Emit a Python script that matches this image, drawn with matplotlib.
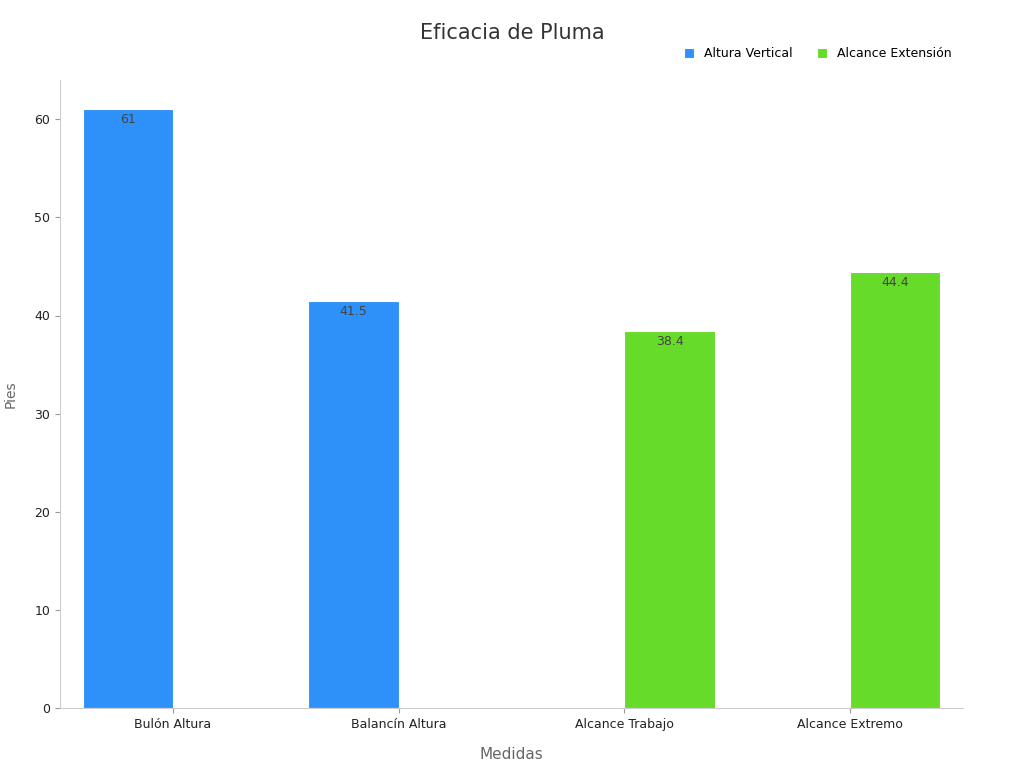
import matplotlib
matplotlib.use("Agg")
import matplotlib.pyplot as plt
import numpy as np

categories = ["Bulón Altura", "Balancín Altura", "Alcance Trabajo", "Alcance Extremo"]
series_names = ["Altura Vertical", "Alcance Extensión"]
altura_vertical = [61, 41.5, None, None]
alcance_extension = [None, None, 38.4, 44.4]
colors = ["#2e91fa", "#66db29"]

fig = plt.figure(figsize=(10.24, 7.68), dpi=100)
ax = fig.add_axes([60/1024, 60/768, 903/1024, 628/768])
x = np.arange(len(categories))
w = 0.4
for vals, off, c, name in [(altura_vertical, -w/2, colors[0], series_names[0]),
                           (alcance_extension, w/2, colors[1], series_names[1])]:
    xs = [xi + off for xi, v in zip(x, vals) if v is not None]
    vs = [v for v in vals if v is not None]
    bars = ax.bar(xs, vs, width=w, color=c, edgecolor="white", linewidth=0.8, label=name)
    for b, v in zip(bars, vs):
        ax.text(b.get_x() + b.get_width()/2, v - 0.4, f"{v:g}", ha="center", va="top",
                fontsize=9, color="#444444")

ax.set_xlim(-0.5, 3.5)
ax.set_ylim(0, 64)
ax.set_xticks(x)
ax.set_xticklabels(categories, fontsize=9, color="#222222")
ax.set_yticks(range(0, 61, 10))
ax.tick_params(axis="y", labelsize=9, colors="#222222")
ax.tick_params(color="#999999")
for s in ["top", "right"]:
    ax.spines[s].set_visible(False)
for s in ["left", "bottom"]:
    ax.spines[s].set_color("#cccccc")
ax.set_xlabel("Medidas", fontsize=11, color="#666666", labelpad=12)
ax.set_ylabel("Pies", fontsize=10, color="#666666", labelpad=12)
fig.text(0.5, 0.957, "Eficacia de Pluma", ha="center", va="center", fontsize=15, color="#333333")
ax.legend(loc="upper right", bbox_to_anchor=(1.0, 1.07), ncol=2, frameon=False,
          fontsize=9, handlelength=0.8, handleheight=0.8, columnspacing=2)
fig.savefig("out.png", dpi=100)
